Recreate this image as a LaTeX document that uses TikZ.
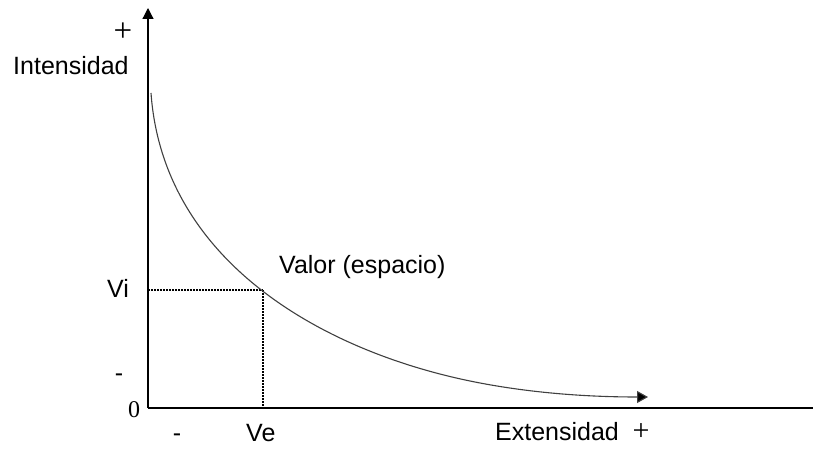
\documentclass[tikz,border=0pt]{standalone}
\usepackage{fontspec}
\setmainfont{Liberation Sans}
\newfontfamily\serifplus{Liberation Serif}
\usetikzlibrary{arrows.meta}
\tikzset{
  axis/.style={line width=1.2pt, black, -{Triangle[length=11pt,width=11pt]}},
  curveline/.style={line width=1.1pt, black!75, -{Triangle[length=11pt,width=12pt,fill=black]}},
  guide/.style={line width=1.5pt, black, dash pattern=on 1.5pt off 1.5pt},
  lbl/.style={inner sep=0pt, font=\fontsize{25}{29}\selectfont},
  plus/.style={inner sep=0pt, font=\serifplus\fontsize{33}{36}\selectfont},
  zero/.style={inner sep=0pt, font=\serifplus\fontsize{24}{28}\selectfont}
}
\begin{document}
\begin{tikzpicture}[x=1pt,y=-1pt]
\useasboundingbox (0,0) rectangle (813,454);
% axis coordinates
\coordinate (O) at (148,408);
\coordinate (Ytop) at (148,8);
\coordinate (Xend) at (824,408);
\coordinate (P) at (263,290);
\coordinate (Vy) at (148,290);
\coordinate (Vx) at (263,408);
\coordinate (C0) at (151,93);
\coordinate (C1) at (470,381);
\coordinate (C2) at (648,397);
% axes
\draw[axis] (O) -- (Ytop);
\draw[axis] (O) -- (Xend);
% dotted guides
\draw[guide] (Vy) -- (P);
\draw[guide] (P) -- (Vx);
% curve
\draw[curveline] (C0) .. controls (163,260) and (320,350) .. (C1)
  .. controls (530,393.4) and (590,397) .. (C2);
% labels
\node[plus] (plusy) at (123,32) {+};
\node[lbl, anchor=base west] (inten) at (13,75) {Intensidad};
\node[lbl, anchor=base west] (vi) at (107,297) {Vi};
\node[lbl, anchor=center] (miny) at (119,378) {-};
\node[zero, anchor=center] (zero) at (134,410) {0};
\node[lbl, anchor=center] (minx) at (177,438) {-};
\node[lbl, anchor=base west] (ve) at (246,441) {Ve};
\node[lbl, anchor=base west] (exten) at (495,440) {Extensidad};
\node[plus, font=\serifplus\fontsize{30}{32}\selectfont] (plusx) at (641,432) {+};
\node[lbl, anchor=base west] (valor) at (279,273) {Valor (espacio)};
\end{tikzpicture}
\end{document}
